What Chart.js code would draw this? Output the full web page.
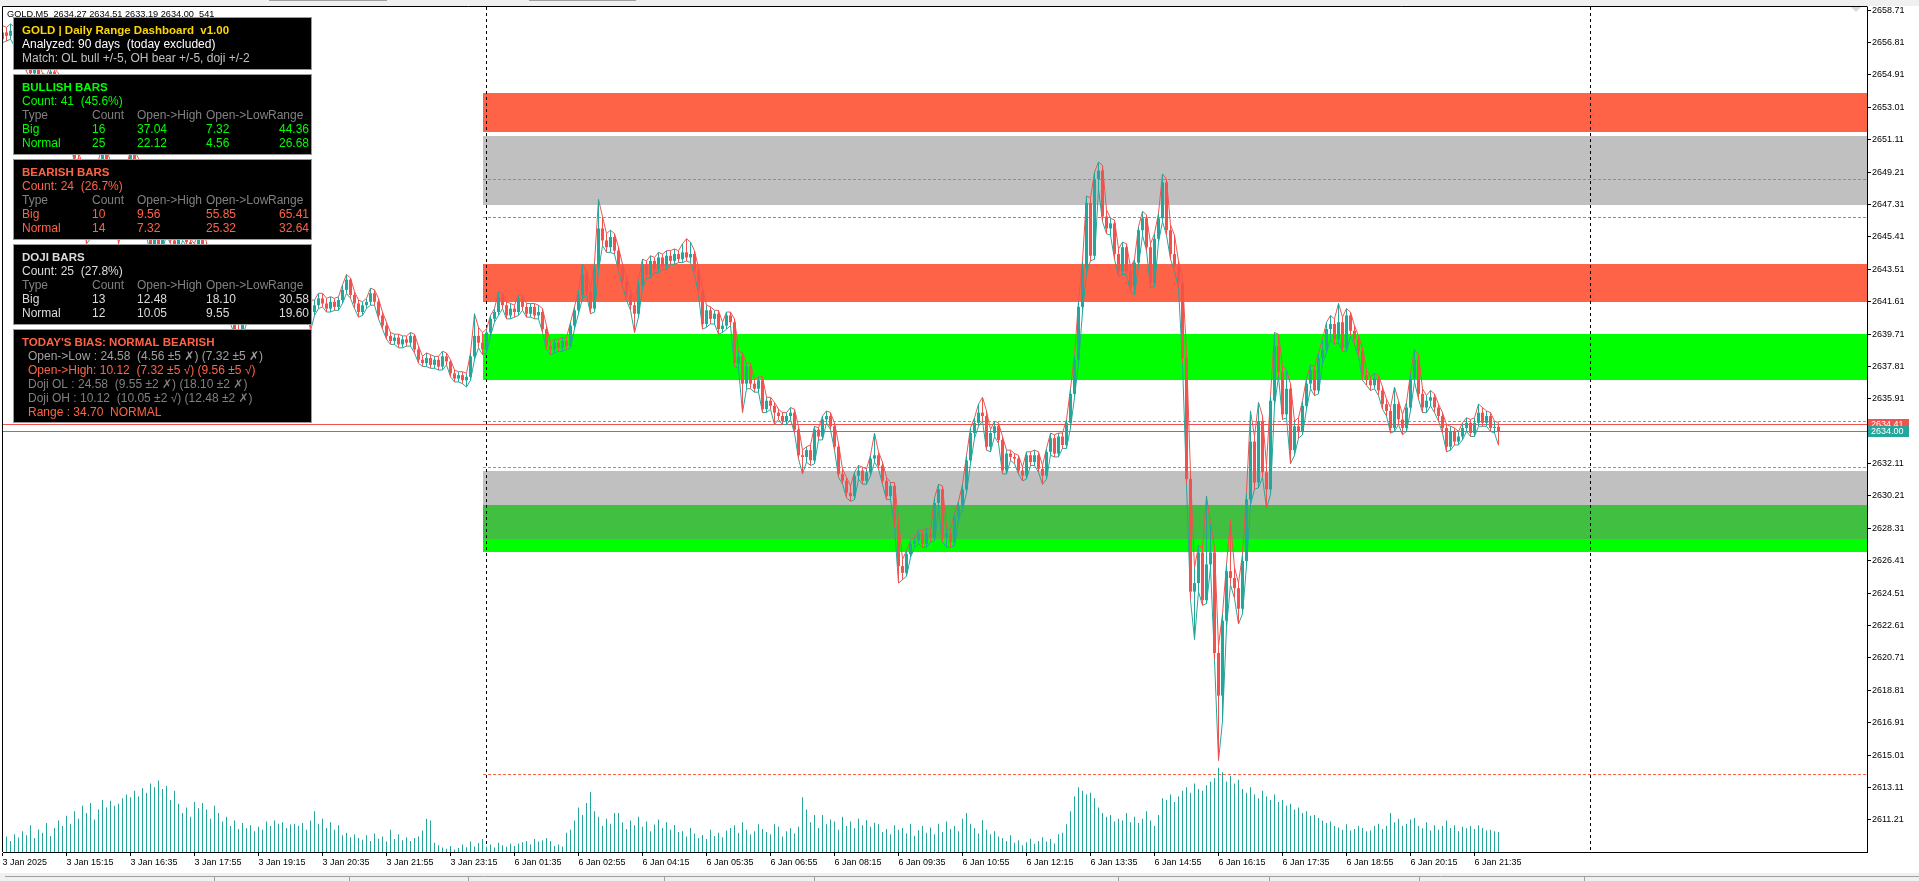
<!DOCTYPE html>
<html>
<head>
<meta charset="utf-8">
<title>GOLD,M5</title>
<script src="https://cdn.jsdelivr.net/npm/chart.js@4.4.1/dist/chart.umd.min.js"></script>
<style>
  html, body { margin: 0; padding: 0; background: #ffffff; overflow: hidden; }
  canvas { display: block; }
</style>
</head>
<body>
<canvas id="chart" width="1919" height="881"></canvas>
<script>
// M5 bars, index 0 = 3 Jan 13:55, last = 6 Jan 22:05
const opens = [
  2657.0, 2657.4, 2657.2, 2657.5, 2656.8, 2656.5, 2656.0, 2655.3, 2655.0, 2655.4,
  2654.8, 2654.2, 2654.6, 2655.1, 2654.9, 2654.3, 2653.5, 2652.4, 2651.2, 2650.0,
  2649.3, 2647.0, 2645.6, 2646.8, 2648.2, 2649.6, 2650.4, 2649.5, 2648.3, 2647.4,
  2646.2, 2647.8, 2649.1, 2650.3, 2649.8, 2648.6, 2647.0, 2645.8, 2644.6, 2645.5,
  2644.9, 2645.7, 2646.3, 2645.2, 2644.5, 2645.4, 2646.0, 2645.1, 2644.2, 2644.8,
  2645.6, 2644.9, 2643.8, 2643.0, 2642.4, 2642.9, 2642.1, 2641.3, 2640.6, 2640.0,
  2639.8, 2640.5, 2641.2, 2640.7, 2641.4, 2642.0, 2641.6, 2642.3, 2642.8, 2642.2,
  2641.7, 2642.4, 2643.0, 2642.5, 2641.9, 2642.6, 2642.1, 2641.5, 2641.0, 2641.4,
  2641.8, 2641.5, 2641.2, 2641.6, 2641.3, 2641.7, 2642.3, 2642.9, 2642.0, 2641.5,
  2641.0, 2641.4, 2641.6, 2642.1, 2641.6, 2640.8, 2640.2, 2639.6, 2639.3, 2639.5,
  2639.1, 2639.4, 2639.2, 2639.6, 2638.8, 2638.2, 2638.0, 2638.3, 2637.9, 2638.2,
  2637.8, 2638.4, 2638.1, 2637.4, 2637.1, 2637.3, 2637.0, 2637.2, 2638.4, 2639.6,
  2639.2, 2638.8, 2639.8, 2640.6, 2641.0, 2641.9, 2641.4, 2640.8, 2641.2, 2641.0,
  2641.8, 2641.3, 2640.9, 2641.3, 2640.8, 2641.0, 2640.0, 2639.0, 2638.8, 2639.2,
  2638.9, 2639.3, 2639.0, 2640.2, 2641.1, 2642.0, 2643.2, 2642.2, 2641.2, 2643.6,
  2645.9, 2645.2, 2644.8, 2645.4, 2644.6, 2643.6, 2642.8, 2642.0, 2641.4, 2640.9,
  2642.6, 2643.8, 2643.2, 2644.0, 2643.5, 2644.2, 2643.7, 2644.3, 2644.0, 2644.4,
  2644.1, 2644.5, 2644.2, 2644.4, 2643.4, 2642.2, 2640.3, 2641.1, 2640.6, 2640.9,
  2640.0, 2640.2, 2640.8, 2640.4, 2638.0, 2638.4, 2636.8, 2637.8, 2636.8, 2636.5,
  2637.0, 2635.3, 2635.8, 2635.5, 2635.1, 2634.9, 2634.6, 2634.9, 2635.1, 2634.1,
  2632.6, 2632.5, 2632.9, 2632.3, 2634.1, 2633.7, 2634.7, 2634.9, 2634.3, 2633.1,
  2631.5, 2631.1, 2630.4, 2630.2, 2631.4, 2631.7, 2631.1, 2631.6, 2632.4, 2632.6,
  2632.0, 2631.1, 2630.2, 2630.8, 2628.6, 2626.1, 2625.7, 2626.8, 2627.4, 2627.6,
  2628.0, 2627.4, 2628.0, 2627.8, 2629.8, 2630.6, 2627.8, 2628.0, 2627.5, 2629.0,
  2629.6, 2630.6, 2632.3, 2633.9, 2634.5, 2635.1, 2634.9, 2633.1, 2633.9, 2634.3,
  2633.5, 2631.7, 2632.7, 2632.5, 2632.4, 2631.7, 2631.4, 2632.6, 2632.2, 2632.6,
  2631.8, 2631.4, 2632.8, 2633.6, 2632.7, 2633.7, 2633.2, 2634.5, 2636.2, 2638.2,
  2641.3, 2643.6, 2647.4, 2644.3, 2648.8, 2649.3, 2646.6, 2645.9, 2646.2, 2644.4,
  2643.4, 2644.8, 2643.4, 2642.5, 2643.9, 2645.8, 2646.5, 2644.8, 2642.7, 2645.3,
  2646.5, 2648.6, 2645.8, 2644.4, 2643.7, 2642.7, 2638.3, 2631.2, 2624.6, 2625.1,
  2626.9, 2624.1, 2626.2, 2626.9, 2621.0, 2618.5, 2622.9, 2625.8, 2625.4, 2624.8,
  2623.6, 2626.4, 2630.0, 2633.4, 2631.0, 2634.6, 2631.6, 2630.6, 2635.8, 2639.0,
  2637.5, 2635.0, 2636.5, 2632.9, 2634.3, 2634.0, 2635.5, 2636.8, 2637.6, 2636.4,
  2638.3, 2638.8, 2640.0, 2640.3, 2639.4, 2640.4, 2638.9, 2640.8, 2639.9, 2639.4,
  2638.7, 2637.3, 2637.0, 2636.7, 2637.1, 2636.4, 2635.6, 2635.2, 2634.2, 2635.6,
  2634.7, 2634.2, 2635.4, 2637.1, 2638.2, 2636.2, 2635.4, 2635.8, 2636.0, 2635.4,
  2634.9, 2634.2, 2633.1, 2634.0, 2633.4, 2633.7, 2634.2, 2634.5, 2633.9, 2634.5,
  2635.1, 2634.5, 2634.9, 2634.2, 2634.27
];
const highs = [
  2657.8, 2657.7, 2657.9, 2657.7, 2657.0, 2656.7, 2656.2, 2655.6, 2655.7, 2655.6,
  2655.0, 2654.9, 2655.4, 2655.3, 2655.0, 2654.5, 2653.7, 2652.6, 2651.5, 2650.4,
  2649.6, 2647.3, 2647.1, 2648.5, 2649.9, 2650.8, 2650.6, 2649.8, 2648.6, 2647.6,
  2648.1, 2649.4, 2650.6, 2650.5, 2650.0, 2648.8, 2647.2, 2646.0, 2645.8, 2645.7,
  2645.9, 2646.6, 2646.5, 2645.4, 2645.7, 2646.3, 2646.2, 2645.3, 2645.0, 2645.9,
  2645.8, 2645.1, 2644.0, 2643.2, 2643.1, 2643.1, 2642.3, 2641.5, 2640.8, 2640.3,
  2640.7, 2641.4, 2641.4, 2641.6, 2642.2, 2642.2, 2642.5, 2643.0, 2643.0, 2642.4,
  2642.6, 2643.3, 2643.2, 2642.7, 2642.8, 2642.8, 2642.3, 2641.7, 2641.7, 2642.1,
  2642.1, 2641.8, 2641.9, 2641.8, 2641.9, 2642.6, 2643.2, 2643.0, 2642.2, 2641.7,
  2641.6, 2641.8, 2642.4, 2642.3, 2641.8, 2641.0, 2640.4, 2639.8, 2639.7, 2639.7,
  2639.6, 2639.6, 2639.8, 2639.7, 2639.0, 2638.4, 2638.6, 2638.5, 2638.4, 2638.4,
  2638.7, 2638.6, 2638.2, 2637.6, 2637.5, 2637.5, 2637.4, 2638.6, 2640.9, 2640.1,
  2639.8, 2640.0, 2640.8, 2641.2, 2642.2, 2642.1, 2641.6, 2641.5, 2641.4, 2642.0,
  2642.0, 2641.5, 2641.5, 2641.5, 2641.4, 2641.2, 2640.2, 2639.2, 2639.4, 2639.4,
  2639.5, 2639.5, 2640.4, 2641.3, 2642.3, 2643.8, 2643.4, 2642.4, 2643.9, 2647.6,
  2646.6, 2645.6, 2645.8, 2645.6, 2644.8, 2643.8, 2643.1, 2642.3, 2641.6, 2642.9,
  2644.1, 2644.0, 2644.3, 2644.2, 2644.5, 2644.4, 2644.6, 2644.6, 2644.7, 2644.6,
  2645.0, 2645.3, 2645.1, 2644.6, 2643.6, 2642.4, 2641.4, 2641.3, 2641.1, 2641.1,
  2640.4, 2641.0, 2641.0, 2640.6, 2638.7, 2638.6, 2638.0, 2638.0, 2637.0, 2637.2,
  2637.2, 2636.0, 2636.0, 2635.7, 2635.3, 2635.1, 2635.1, 2635.4, 2635.3, 2634.3,
  2632.9, 2633.1, 2633.2, 2634.3, 2634.2, 2634.9, 2635.2, 2635.1, 2634.5, 2633.3,
  2631.8, 2631.3, 2630.8, 2631.6, 2632.0, 2631.9, 2631.8, 2632.6, 2633.9, 2632.8,
  2632.2, 2631.3, 2631.0, 2631.0, 2628.8, 2626.5, 2627.0, 2627.6, 2627.8, 2628.2,
  2628.2, 2628.3, 2628.2, 2630.1, 2630.9, 2630.8, 2628.3, 2628.2, 2629.2, 2629.9,
  2630.9, 2632.6, 2634.2, 2634.8, 2635.6, 2636.0, 2635.2, 2634.1, 2634.6, 2634.5,
  2633.7, 2632.9, 2632.9, 2632.7, 2632.6, 2631.9, 2632.8, 2632.8, 2632.9, 2632.8,
  2632.0, 2633.0, 2633.9, 2633.8, 2633.9, 2633.9, 2634.7, 2636.5, 2638.5, 2641.6,
  2644.0, 2647.8, 2647.7, 2649.2, 2649.8, 2649.6, 2647.0, 2646.5, 2646.4, 2644.7,
  2645.1, 2645.0, 2643.6, 2644.1, 2646.0, 2646.9, 2646.7, 2645.0, 2645.6, 2646.8,
  2649.1, 2648.8, 2646.1, 2645.5, 2644.0, 2643.0, 2638.6, 2631.5, 2626.0, 2627.3,
  2627.2, 2630.2, 2628.6, 2627.2, 2621.4, 2623.3, 2626.2, 2628.8, 2626.0, 2625.1,
  2626.8, 2630.4, 2635.2, 2633.7, 2635.7, 2634.9, 2632.0, 2636.1, 2639.8, 2639.7,
  2637.8, 2637.6, 2636.8, 2634.6, 2634.8, 2635.8, 2637.1, 2637.9, 2637.8, 2638.6,
  2639.4, 2640.4, 2640.8, 2640.6, 2641.5, 2640.7, 2641.2, 2641.0, 2640.2, 2639.6,
  2638.9, 2637.6, 2637.2, 2637.4, 2637.3, 2636.6, 2635.9, 2635.4, 2636.6, 2635.8,
  2635.0, 2635.7, 2637.4, 2638.8, 2638.5, 2636.5, 2636.1, 2636.4, 2636.2, 2635.6,
  2635.1, 2634.4, 2634.3, 2634.2, 2634.0, 2634.5, 2634.8, 2634.7, 2634.8, 2635.6,
  2635.4, 2635.2, 2635.1, 2634.6, 2634.51
];
const lows = [
  2656.8, 2656.9, 2657.0, 2656.6, 2656.2, 2655.8, 2655.1, 2654.7, 2654.8, 2654.5,
  2654.0, 2654.0, 2654.4, 2654.6, 2654.1, 2653.3, 2652.1, 2651.0, 2649.7, 2649.0,
  2646.7, 2645.0, 2645.3, 2646.5, 2648.0, 2649.3, 2649.2, 2648.0, 2647.1, 2645.0,
  2646.0, 2647.6, 2648.9, 2649.5, 2648.4, 2646.7, 2645.5, 2644.3, 2644.4, 2644.6,
  2644.7, 2645.5, 2645.0, 2644.2, 2644.3, 2645.2, 2644.9, 2643.9, 2644.0, 2644.6,
  2644.7, 2643.6, 2642.8, 2642.1, 2642.2, 2641.9, 2641.1, 2640.3, 2639.7, 2639.5,
  2639.6, 2640.3, 2640.5, 2640.5, 2641.2, 2641.4, 2641.4, 2642.1, 2642.0, 2641.5,
  2641.5, 2642.2, 2642.3, 2641.7, 2641.7, 2641.9, 2641.3, 2639.9, 2640.8, 2641.2,
  2641.3, 2641.0, 2641.0, 2641.1, 2641.1, 2641.5, 2642.1, 2641.8, 2641.2, 2640.7,
  2640.8, 2641.2, 2641.4, 2641.4, 2640.6, 2640.0, 2639.4, 2639.1, 2639.1, 2638.9,
  2638.9, 2639.0, 2639.0, 2638.6, 2638.0, 2637.8, 2637.8, 2637.7, 2637.7, 2637.6,
  2637.6, 2637.9, 2637.2, 2636.9, 2636.9, 2636.8, 2636.6, 2637.0, 2638.2, 2638.9,
  2638.5, 2638.6, 2639.6, 2640.4, 2640.8, 2641.2, 2640.6, 2640.6, 2640.7, 2640.8,
  2641.1, 2640.7, 2640.7, 2640.6, 2640.6, 2639.8, 2638.8, 2638.5, 2638.6, 2638.7,
  2638.7, 2638.8, 2638.9, 2640.0, 2640.9, 2641.8, 2642.0, 2640.9, 2641.0, 2643.4,
  2644.9, 2644.5, 2644.5, 2644.4, 2643.4, 2642.5, 2641.7, 2641.1, 2639.8, 2640.7,
  2642.4, 2643.0, 2643.0, 2643.3, 2643.3, 2643.5, 2643.5, 2643.8, 2643.8, 2643.9,
  2643.9, 2644.0, 2643.9, 2643.2, 2642.0, 2640.0, 2640.1, 2640.3, 2640.3, 2639.7,
  2639.8, 2640.0, 2640.2, 2637.8, 2637.7, 2635.1, 2636.5, 2636.5, 2636.3, 2636.3,
  2635.1, 2635.1, 2635.3, 2634.4, 2634.7, 2634.4, 2634.4, 2634.7, 2633.9, 2632.4,
  2631.5, 2632.2, 2632.0, 2632.1, 2633.5, 2633.5, 2634.5, 2634.1, 2632.9, 2631.3,
  2630.9, 2630.1, 2629.9, 2630.0, 2631.2, 2630.9, 2630.9, 2631.4, 2632.2, 2631.8,
  2630.9, 2630.0, 2630.0, 2628.4, 2625.1, 2625.3, 2625.5, 2626.6, 2627.2, 2627.4,
  2627.2, 2627.2, 2627.5, 2627.6, 2629.4, 2627.5, 2627.2, 2627.2, 2627.3, 2628.8,
  2629.4, 2630.4, 2632.1, 2633.6, 2634.3, 2634.6, 2632.9, 2632.8, 2633.7, 2633.3,
  2631.5, 2631.5, 2632.3, 2632.1, 2631.5, 2631.1, 2631.2, 2632.0, 2632.0, 2631.6,
  2630.9, 2631.2, 2632.6, 2632.5, 2632.5, 2633.0, 2633.0, 2634.2, 2636.0, 2638.0,
  2641.0, 2643.3, 2644.0, 2644.1, 2648.2, 2646.3, 2645.6, 2645.5, 2644.1, 2643.1,
  2643.2, 2643.2, 2642.2, 2642.0, 2643.7, 2645.5, 2644.6, 2642.4, 2642.5, 2645.1,
  2646.3, 2645.5, 2644.1, 2643.4, 2642.4, 2638.0, 2630.9, 2624.1, 2621.8, 2624.6,
  2623.8, 2623.9, 2626.0, 2620.6, 2614.7, 2617.0, 2622.5, 2625.0, 2624.2, 2622.7,
  2623.3, 2626.1, 2629.7, 2630.6, 2630.7, 2631.3, 2629.5, 2630.3, 2635.5, 2637.2,
  2634.7, 2634.8, 2632.1, 2632.6, 2633.6, 2633.8, 2635.3, 2636.5, 2636.1, 2636.2,
  2638.0, 2638.6, 2639.4, 2639.1, 2639.2, 2638.7, 2638.7, 2639.6, 2639.1, 2638.4,
  2637.0, 2636.7, 2636.4, 2636.5, 2636.1, 2635.3, 2634.9, 2633.9, 2634.0, 2634.4,
  2633.8, 2634.0, 2635.2, 2636.9, 2635.9, 2635.1, 2635.1, 2635.5, 2635.1, 2634.6,
  2633.9, 2632.8, 2632.9, 2633.2, 2633.2, 2633.5, 2634.0, 2633.7, 2633.7, 2634.3,
  2634.3, 2634.3, 2634.0, 2633.9, 2633.19
];
const closes = [
  2657.4, 2657.2, 2657.5, 2656.8, 2656.5, 2656.0, 2655.3, 2655.0, 2655.4, 2654.8,
  2654.2, 2654.6, 2655.1, 2654.9, 2654.3, 2653.5, 2652.4, 2651.2, 2650.0, 2649.3,
  2647.0, 2645.6, 2646.8, 2648.2, 2649.6, 2650.4, 2649.5, 2648.3, 2647.4, 2646.2,
  2647.8, 2649.1, 2650.3, 2649.8, 2648.6, 2647.0, 2645.8, 2644.6, 2645.5, 2644.9,
  2645.7, 2646.3, 2645.2, 2644.5, 2645.4, 2646.0, 2645.1, 2644.2, 2644.8, 2645.6,
  2644.9, 2643.8, 2643.0, 2642.4, 2642.9, 2642.1, 2641.3, 2640.6, 2640.0, 2639.8,
  2640.5, 2641.2, 2640.7, 2641.4, 2642.0, 2641.6, 2642.3, 2642.8, 2642.2, 2641.7,
  2642.4, 2643.0, 2642.5, 2641.9, 2642.6, 2642.1, 2641.5, 2641.0, 2641.4, 2641.8,
  2641.5, 2641.2, 2641.6, 2641.3, 2641.7, 2642.3, 2642.9, 2642.0, 2641.5, 2641.0,
  2641.4, 2641.6, 2642.1, 2641.6, 2640.8, 2640.2, 2639.6, 2639.3, 2639.5, 2639.1,
  2639.4, 2639.2, 2639.6, 2638.8, 2638.2, 2638.0, 2638.3, 2637.9, 2638.2, 2637.8,
  2638.4, 2638.1, 2637.4, 2637.1, 2637.3, 2637.0, 2637.2, 2638.4, 2639.6, 2639.2,
  2638.8, 2639.8, 2640.6, 2641.0, 2641.9, 2641.4, 2640.8, 2641.2, 2641.0, 2641.8,
  2641.3, 2640.9, 2641.3, 2640.8, 2641.0, 2640.0, 2639.0, 2638.8, 2639.2, 2638.9,
  2639.3, 2639.0, 2640.2, 2641.1, 2642.0, 2643.2, 2642.2, 2641.2, 2643.6, 2645.9,
  2645.2, 2644.8, 2645.4, 2644.6, 2643.6, 2642.8, 2642.0, 2641.4, 2640.9, 2642.6,
  2643.8, 2643.2, 2644.0, 2643.5, 2644.2, 2643.7, 2644.3, 2644.0, 2644.4, 2644.1,
  2644.5, 2644.2, 2644.4, 2643.4, 2642.2, 2640.3, 2641.1, 2640.6, 2640.9, 2640.0,
  2640.2, 2640.8, 2640.4, 2638.0, 2638.4, 2636.8, 2637.8, 2636.8, 2636.5, 2637.0,
  2635.3, 2635.8, 2635.5, 2635.1, 2634.9, 2634.6, 2634.9, 2635.1, 2634.1, 2632.6,
  2632.5, 2632.9, 2632.3, 2634.1, 2633.7, 2634.7, 2634.9, 2634.3, 2633.1, 2631.5,
  2631.1, 2630.4, 2630.2, 2631.4, 2631.7, 2631.1, 2631.6, 2632.4, 2632.6, 2632.0,
  2631.1, 2630.2, 2630.8, 2628.6, 2626.1, 2625.7, 2626.8, 2627.4, 2627.6, 2628.0,
  2627.4, 2628.0, 2627.8, 2629.8, 2630.6, 2627.8, 2628.0, 2627.5, 2629.0, 2629.6,
  2630.6, 2632.3, 2633.9, 2634.5, 2635.1, 2634.9, 2633.1, 2633.9, 2634.3, 2633.5,
  2631.7, 2632.7, 2632.5, 2632.4, 2631.7, 2631.4, 2632.6, 2632.2, 2632.6, 2631.8,
  2631.4, 2632.8, 2633.6, 2632.7, 2633.7, 2633.2, 2634.5, 2636.2, 2638.2, 2641.3,
  2643.6, 2647.4, 2644.3, 2648.8, 2649.3, 2646.6, 2645.9, 2646.2, 2644.4, 2643.4,
  2644.8, 2643.4, 2642.5, 2643.9, 2645.8, 2646.5, 2644.8, 2642.7, 2645.3, 2646.5,
  2648.6, 2645.8, 2644.4, 2643.7, 2642.7, 2638.3, 2631.2, 2624.6, 2625.1, 2626.9,
  2624.1, 2626.2, 2626.9, 2621.0, 2618.5, 2622.9, 2625.8, 2625.4, 2624.8, 2623.6,
  2626.4, 2630.0, 2633.4, 2631.0, 2634.6, 2631.6, 2630.6, 2635.8, 2639.0, 2637.5,
  2635.0, 2636.5, 2632.9, 2634.3, 2634.0, 2635.5, 2636.8, 2637.6, 2636.4, 2638.3,
  2638.8, 2640.0, 2640.3, 2639.4, 2640.4, 2638.9, 2640.8, 2639.9, 2639.4, 2638.7,
  2637.3, 2637.0, 2636.7, 2637.1, 2636.4, 2635.6, 2635.2, 2634.2, 2635.6, 2634.7,
  2634.2, 2635.4, 2637.1, 2638.2, 2636.2, 2635.4, 2635.8, 2636.0, 2635.4, 2634.9,
  2634.2, 2633.1, 2634.0, 2633.4, 2633.7, 2634.2, 2634.5, 2633.9, 2634.5, 2635.1,
  2634.5, 2634.9, 2634.2, 2634.27, 2634.00
];
// tick volume per bar
const volumes = [
  350, 420, 300, 480, 390, 560, 450, 720, 380, 610,
  520, 780, 430, 650, 850, 700, 980, 760, 1100, 900,
  1250, 1050, 1320, 880, 1150, 1400, 1200, 1380, 1250, 1300,
  1450, 1550, 1480, 1650, 1500, 1720, 1600, 1850, 1750, 1930,
  1700, 1780, 1400, 1650, 1300, 1050, 1200, 950, 1350, 1180,
  1320, 1150, 900, 1250, 1050, 820, 950, 700, 850, 620,
  780, 640, 720, 560, 680, 600, 820, 700, 850, 760,
  800, 650, 740, 760, 700, 780, 600, 850, 1100, 760,
  900, 650, 800, 600, 720, 450, 520, 400, 470, 380,
  330, 450, 300, 500, 360, 420, 280, 600, 350, 480,
  320, 400, 300, 380, 420, 580, 900, 850, 250, 180,
  120, 90, 160, 70, 110, 200, 130, 280, 150, 240,
  350, 150, 200, 120, 250, 180, 140, 220, 160, 230,
  260, 300, 200, 350, 280, 320, 380, 300, 160, 200,
  150, 520, 600, 850, 1200, 1000, 1320, 1620, 1100, 950,
  700, 900, 760, 1050, 1050, 800, 620, 850, 720, 950,
  680, 820, 560, 740, 880, 650, 800, 600, 730, 540,
  560, 420, 650, 500, 380, 460, 350, 600, 430, 520,
  400, 580, 650, 720, 520, 800, 600, 470, 560, 750,
  620, 540, 480, 750, 680, 420, 560, 640, 500, 680,
  1480, 1150, 800, 1000, 650, 1000, 750, 880, 820, 600,
  950, 700, 820, 640, 900, 720, 860, 680, 790, 750,
  540, 620, 480, 720, 600, 650, 500, 760, 440, 590,
  700, 520, 660, 480, 760, 540, 820, 620, 700, 560,
  900, 1050, 760, 640, 500, 860, 600, 480, 560, 420,
  380, 300, 450, 250, 320, 180, 260, 360, 220, 300,
  400, 280, 350, 230, 480, 520, 750, 1100, 1500, 1750,
  1650, 1550, 1600, 1450, 1200, 1050, 950, 1000, 820, 900,
  850, 1050, 800, 950, 780, 900, 1100, 850, 700, 1000,
  1450, 1400, 1550, 1350, 1500, 1650, 1750, 1600, 1850, 1700,
  1650, 1800, 1900, 2000, 2270, 2150, 1900, 2050, 1850, 1950,
  1700, 1600, 1750, 1550, 1450, 1650, 1500, 1400, 1550, 1350,
  1400, 1250, 1300, 1150, 1200, 1050, 1100, 980, 1000, 920,
  850, 780, 820, 700, 660, 600, 750, 580, 620, 700,
  650, 560, 580, 700, 760, 620, 700, 1050, 800, 900,
  700, 760, 880, 920, 700, 640, 800, 580, 720, 600,
  700, 850, 650, 720, 560, 680, 640, 700, 620, 720,
  650, 580, 600, 560, 541
];

const tickIdx = [0, 16, 32, 48, 64, 80, 96, 112, 128, 144, 160, 176,
  192, 208, 224, 240, 256, 272, 288, 304, 320, 336, 352, 368];
const tickLabels = ['3 Jan 2025', '3 Jan 15:15', '3 Jan 16:35', '3 Jan 17:55',
  '3 Jan 19:15', '3 Jan 20:35', '3 Jan 21:55', '3 Jan 23:15', '6 Jan 01:35',
  '6 Jan 02:55', '6 Jan 04:15', '6 Jan 05:35', '6 Jan 06:55', '6 Jan 08:15',
  '6 Jan 09:35', '6 Jan 10:55', '6 Jan 12:15', '6 Jan 13:35', '6 Jan 14:55',
  '6 Jan 16:15', '6 Jan 17:35', '6 Jan 18:55', '6 Jan 20:15', '6 Jan 21:35'];
const priceTicks = [2611.21, 2613.11, 2615.01, 2616.91, 2618.81, 2620.71,
  2622.61, 2624.51, 2626.41, 2628.31, 2630.21, 2632.11, 2635.91, 2637.81,
  2639.71, 2641.61, 2643.51, 2645.41, 2647.31, 2649.21, 2651.11, 2653.01,
  2654.91, 2656.81, 2658.71];

// range zones drawn by the dashboard (price from / to)
const zoneFrom = [2653.84, 2651.32, 2643.81, 2639.71, 2631.67, 2629.68, 2627.68];
const zoneTo = [2651.55, 2647.27, 2641.58, 2637.01, 2629.68, 2627.68, 2626.92];
const redLevels = [2648.80, 2646.57, 2613.90];
const greenLevels = [2634.62, 2631.90];
const askPrice = 2634.41;
const bidPrice = 2634.00;
const daySeparators = [121, 397];
const zoneStart = 120.125;

const headerText = 'GOLD,M5  2634.27 2634.51 2633.19 2634.00  541';
const dashTitle = 'GOLD | Daily Range Dashboard  v1.00';
const dashInfo = ['Analyzed: 90 days  (today excluded)', 'Match: OL bull +/-5, OH bear +/-5, doji +/-2'];
const tableHead = ['Type', 'Count', 'Open->High', 'Open->Low', 'Range'];
const bullRows = [['Big', '16', '37.04', '7.32', '44.36'], ['Normal', '25', '22.12', '4.56', '26.68']];
const bearRows = [['Big', '10', '9.56', '55.85', '65.41'], ['Normal', '14', '7.32', '25.32', '32.64']];
const dojiRows = [['Big', '13', '12.48', '18.10', '30.58'], ['Normal', '12', '10.05', '9.55', '19.60']];
const biasTitle = "TODAY'S BIAS: NORMAL BEARISH";
const biasLines = [
  'Open->Low : 24.58  (4.56 \u00b15 \u2717) (7.32 \u00b15 \u2717)',
  'Open->High: 10.12  (7.32 \u00b15 \u221a) (9.56 \u00b15 \u221a)',
  'Doji OL : 24.58  (9.55 \u00b12 \u2717) (18.10 \u00b12 \u2717)',
  'Doji OH : 10.12  (10.05 \u00b12 \u221a) (12.48 \u00b12 \u2717)',
  'Range : 34.70  NORMAL'
];

// ---- styles ----
const BULL = '#26A69A';
const BEAR = '#EF5350';
const TOMATO = '#FF6347';
const LIME = '#00FF00';
const zoneColors = ['#FF6347', '#C0C0C0', '#FF6347', '#00FF00', '#C0C0C0', '#40BF40', '#00FF00'];
const biasColors = ['#A0A0A0', TOMATO, '#808080', '#808080', TOMATO];
const FONT = '"Liberation Sans", Arial, "DejaVu Sans", sans-serif';

const candleColors = closes.map((c, i) => c >= opens[i] ? BULL : BEAR);

function drawDashboard(ctx) {
  const L = 13, W = 299;
  const headX = [22, 92, 137, 206, 268];
  const valX = [22, 92, 137, 206, 279];

  function panel(top, bottom) {
    ctx.fillStyle = '#000000';
    ctx.fillRect(L, top, W, bottom - top);
    ctx.strokeStyle = '#9A9A9A';
    ctx.lineWidth = 1;
    ctx.setLineDash([]);
    ctx.strokeRect(L + 0.5, top + 0.5, W - 1, bottom - top - 1);
  }
  function text(str, x, y, color, bold) {
    ctx.font = (bold ? 'bold 11.5px ' : '12px ') + FONT;
    ctx.fillStyle = color;
    ctx.fillText(str, x, y);
  }
  function section(top, bottom, title, count, rows, color) {
    panel(top, bottom);
    ctx.save();
    ctx.beginPath();
    ctx.rect(L + 1, top + 1, W - 2, bottom - top - 2);
    ctx.clip();
    text(title, 22, top + 14, color, true);
    text(count, 22, top + 28, color);
    tableHead.forEach((h, k) => text(h, headX[k], top + 42, '#808080'));
    rows.forEach((r, j) => r.forEach((v, k) => text(v, valX[k], top + 56 + j * 14, color)));
    ctx.restore();
  }

  ctx.save();
  ctx.textBaseline = 'middle';
  ctx.textAlign = 'left';

  panel(17, 70);
  text(dashTitle, 22, 31, '#FFD700', true);
  text(dashInfo[0], 22, 45, '#FFFFFF');
  text(dashInfo[1], 22, 59, '#C0C0C0');

  section(74, 155, 'BULLISH BARS', 'Count: 41  (45.6%)', bullRows, LIME);
  section(159, 240, 'BEARISH BARS', 'Count: 24  (26.7%)', bearRows, TOMATO);
  section(244, 325, 'DOJI BARS', 'Count: 25  (27.8%)', dojiRows, '#DCDCDC');

  panel(329, 423);
  text(biasTitle, 22, 343, TOMATO, true);
  biasLines.forEach((s, k) => text(s, 28, 357 + k * 14, biasColors[k]));
  ctx.restore();
}

const overlay = {
  id: 'overlay',
  beforeDatasetsDraw(chart) {
    const { ctx, chartArea: a } = chart;
    const xs = chart.scales.x, ys = chart.scales.y;
    ctx.save();
    ctx.beginPath();
    ctx.rect(a.left, a.top, a.right - a.left, a.bottom - a.top);
    ctx.clip();

    const zx = Math.round(xs.getPixelForValue(zoneStart));
    zoneFrom.forEach((p, k) => {
      const y0 = Math.round(ys.getPixelForValue(p));
      const y1 = Math.round(ys.getPixelForValue(zoneTo[k]));
      ctx.fillStyle = zoneColors[k];
      ctx.fillRect(zx, y0, a.right - zx, y1 - y0);
    });

    ctx.lineWidth = 1;
    function hline(price, color, dash, from) {
      const py = Math.round(ys.getPixelForValue(price)) + 0.5;
      ctx.strokeStyle = color;
      ctx.setLineDash(dash);
      ctx.beginPath();
      ctx.moveTo(from, py);
      ctx.lineTo(a.right, py);
      ctx.stroke();
    }
    redLevels.forEach(p => hline(p, TOMATO, [3, 2], zx));
    greenLevels.forEach(p => hline(p, LIME, [3, 2], zx));

    ctx.strokeStyle = '#000000';
    ctx.setLineDash([3, 3]);
    daySeparators.forEach(i => {
      const px = Math.floor(xs.getPixelForValue(i)) + 0.5;
      ctx.beginPath();
      ctx.moveTo(px, a.top);
      ctx.lineTo(px, a.bottom);
      ctx.stroke();
    });

    hline(askPrice, BEAR, [], a.left);
    hline(bidPrice, BULL, [], a.left);
    ctx.restore();
  },
  afterDraw(chart) {
    const { ctx, chartArea: a } = chart;
    const ys = chart.scales.y;
    ctx.save();

    // window strips
    ctx.fillStyle = '#F0F0F0';
    ctx.fillRect(0, 0, chart.width, 6);
    ctx.fillRect(0, 873, chart.width, 8);
    ctx.strokeStyle = '#A0A0A0';
    ctx.lineWidth = 1;
    ctx.beginPath();
    ctx.moveTo(269, 0.5); ctx.lineTo(387, 0.5);
    ctx.moveTo(529, 0.5); ctx.lineTo(636, 0.5);
    ctx.moveTo(5, 876.5); ctx.lineTo(chart.width, 876.5);
    [214, 349, 468, 664, 814, 1118, 1269, 1419, 1584].forEach(px => {
      ctx.moveTo(px + 0.5, 877); ctx.lineTo(px + 0.5, 881);
    });
    ctx.stroke();
    ctx.fillStyle = '#D8D8E0';
    ctx.beginPath();
    ctx.moveTo(1851, 7); ctx.lineTo(1861, 7); ctx.lineTo(1856, 12);
    ctx.closePath();
    ctx.fill();

    // frame top / left
    ctx.strokeStyle = '#000000';
    ctx.beginPath();
    ctx.moveTo(2.5, 6.5); ctx.lineTo(a.right + 0.5, 6.5);
    ctx.moveTo(2.5, 6.5); ctx.lineTo(2.5, a.bottom);
    ctx.stroke();

    // symbol header
    ctx.font = '9.2px ' + FONT;
    ctx.fillStyle = '#000000';
    ctx.textBaseline = 'middle';
    ctx.fillText(headerText, 7, 14);

    drawDashboard(ctx);

    // price labels on the axis
    ctx.font = '9px ' + FONT;
    ctx.textBaseline = 'middle';
    [[askPrice, BEAR], [bidPrice, BULL]].forEach(([p, c]) => {
      const py = Math.round(ys.getPixelForValue(p));
      ctx.fillStyle = c;
      ctx.fillRect(a.right + 1, py - 5, 41, 11);
      ctx.fillStyle = '#FFFFFF';
      ctx.fillText(p.toFixed(2), a.right + 4, py + 0.5);
    });
    ctx.restore();
  }
};

const idx = opens.map((_, i) => i);

new Chart(document.getElementById('chart'), {
  type: 'bar',
  data: {
    datasets: [
      {
        label: 'bodies',
        data: idx.map(i => ({ x: i, y: [opens[i], closes[i]] })),
        backgroundColor: candleColors,
        barThickness: 3,
        minBarLength: 1,
        grouped: false,
        inflateAmount: 0,
        order: 1
      },
      {
        label: 'wicks',
        data: idx.map(i => ({ x: i, y: [lows[i], highs[i]] })),
        backgroundColor: candleColors,
        barThickness: 1,
        grouped: false,
        inflateAmount: 0,
        order: 2
      },
      {
        type: 'line',
        label: 'upper',
        data: idx.map(i => ({ x: i, y: highs[i] })),
        borderColor: BEAR,
        borderWidth: 1,
        pointRadius: 0,
        tension: 0,
        order: 3
      },
      {
        type: 'line',
        label: 'lower',
        data: idx.map(i => ({ x: i, y: lows[i] })),
        borderColor: BULL,
        borderWidth: 1,
        pointRadius: 0,
        tension: 0,
        order: 3
      },
      {
        label: 'volume',
        yAxisID: 'yv',
        data: idx.map(i => ({ x: i, y: volumes[i] })),
        backgroundColor: BULL,
        barThickness: 1,
        grouped: false,
        inflateAmount: 0,
        order: 5
      }
    ]
  },
  options: {
    responsive: false,
    animation: false,
    devicePixelRatio: 1,
    events: [],
    layout: { padding: { left: 3, top: 7, right: 0, bottom: 0 } },
    plugins: { legend: { display: false }, tooltip: { enabled: false } },
    scales: {
      x: {
        type: 'linear',
        position: 'bottom',
        min: 0.125,
        max: 466.125,
        offset: false,
        afterBuildTicks: s => { s.ticks = tickIdx.map(v => ({ value: v })); },
        afterFit: s => { s.height = 29; },
        grid: { drawOnChartArea: false, drawTicks: true, tickLength: 4, color: '#000000', offset: false },
        border: { display: true, color: '#000000', width: 1 },
        ticks: {
          autoSkip: false,
          maxRotation: 0,
          align: 'start',
          padding: 1,
          color: '#000000',
          font: { family: FONT, size: 9 },
          callback: (v, i) => tickLabels[i]
        }
      },
      y: {
        type: 'linear',
        position: 'right',
        min: 2609.33,
        max: 2658.89,
        afterBuildTicks: s => { s.ticks = priceTicks.map(v => ({ value: v })); },
        afterFit: s => { s.width = 52; },
        grid: { drawOnChartArea: false, drawTicks: true, tickLength: 4, color: '#000000' },
        border: { display: true, color: '#000000', width: 1 },
        ticks: {
          autoSkip: false,
          padding: 1,
          color: '#000000',
          font: { family: FONT, size: 9 },
          callback: v => v.toFixed(2)
        }
      },
      yv: {
        type: 'linear',
        display: false,
        min: 0,
        max: 22800
      }
    }
  },
  plugins: [overlay]
});
</script>
</body>
</html>
